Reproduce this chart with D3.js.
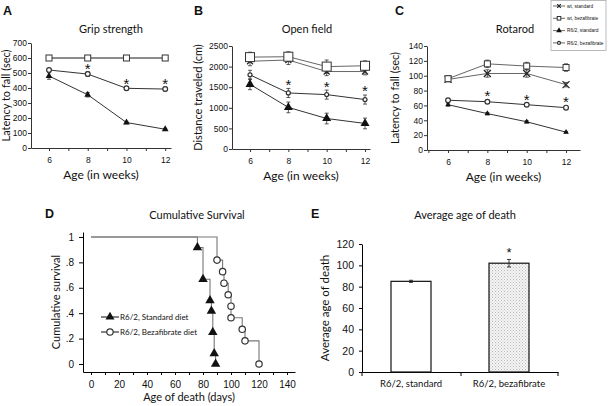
<!DOCTYPE html>
<html>
<head>
<meta charset="utf-8">
<script src="https://cdn.jsdelivr.net/npm/d3@7"></script>
<style>
  body { margin: 0; background: #fff; }
  svg text { font-family: "Liberation Sans", Arial, sans-serif; fill: #111; }
  .ttl { font-family: Lato, "Open Sans", sans-serif; }
</style>
</head>
<body>
<svg width="608" height="406"></svg>
<script>
var svg = d3.select("svg");

/* weeks on the x axis of A, B, C */
var weeks = [6, 8, 10, 12];
var seriesNames = ["wt, standard", "wt, bezafibrate", "R6/2, standard", "R6/2, bezafibrate"];

/* grip strength (sec) */
var gripWtStd = [600, 600, 600, 600];
var gripWtBez = [600, 600, 600, 600];
var gripR6Std = [480, 355, 170, 125];
var gripR6Bez = [520, 493, 398, 393];
var gripErr = [[6, 6, 6, 6], [6, 6, 6, 6], [22, 15, 8, 6], [10, 15, 12, 12]];
var gripStars = [null, 545, 450, 445];

/* open field (cm) */
var openWtStd = [2130, 2160, 1880, 1880];
var openWtBez = [2230, 2240, 2000, 2020];
var openR6Std = [1570, 1010, 740, 620];
var openR6Bez = [1800, 1360, 1320, 1200];
var openErr = [[110, 110, 100, 80], [120, 120, 160, 120], [130, 130, 130, 130], [110, 110, 110, 110]];
var openStars = [null, 1620, 1570, 1480];

/* rotarod (sec) */
var rotaWtStd = [95, 103, 103, 88];
var rotaWtBez = [96, 116, 113, 111];
var rotaR6Std = [61, 49, 38, 24];
var rotaR6Bez = [67, 65, 61, 57];
var rotaErr = [[3, 5, 5, 3], [4, 5, 5, 5], [2, 1.5, 1.5, 1], [2, 2, 2, 2]];
var rotaStars = [null, 77, 71, 69];

/* survival steps: day, survival fraction */
var survStdDays = [76, 80, 85, 86, 87, 88, 89];
var survStdVals = [0.917, 0.667, 0.5, 0.417, 0.25, 0.083, 0];
var survBezDays = [90, 94, 95, 98, 100, 100, 108, 110, 120];
var survBezVals = [0.818, 0.727, 0.636, 0.545, 0.455, 0.364, 0.273, 0.182, 0];

/* average age of death */
var ageGroups = ["R6/2, standard", "R6/2, bezafibrate"];
var ageMeans = [85, 102];
var ageErr = [1, 3.5];

// pattern for the dotted bar
var defs = svg.append("defs");
var pat = defs.append("pattern").attr("id", "dots").attr("width", 3).attr("height", 3)
    .attr("patternUnits", "userSpaceOnUse");
pat.append("rect").attr("width", 3).attr("height", 3).attr("fill", "#f4f4f4");
pat.append("rect").attr("width", 1).attr("height", 1).attr("fill", "#b8b8b8");
pat.append("rect").attr("x", 1.5).attr("y", 1.5).attr("width", 1).attr("height", 1).attr("fill", "#c8c8c8");

function marker(g, type, x, y, s) {
  if (type == 0) { // x / star
    g.append("path").attr("d", "M" + (x - s) + "," + (y - s) + "L" + (x + s) + "," + (y + s) +
        "M" + (x - s) + "," + (y + s) + "L" + (x + s) + "," + (y - s))
      .attr("stroke", "#222").attr("stroke-width", 1.2);
  } else if (type == 1) {
    g.append("rect").attr("x", x - s).attr("y", y - s).attr("width", 2 * s).attr("height", 2 * s)
      .attr("fill", "#fff").attr("stroke", "#333").attr("stroke-width", 1);
  } else if (type == 2) {
    g.append("path").attr("d", d3.symbol(d3.symbolTriangle, s * s * 2.2)())
      .attr("transform", "translate(" + x + "," + y + ")").attr("fill", "#111");
  } else {
    g.append("circle").attr("cx", x).attr("cy", y).attr("r", s * 0.8)
      .attr("fill", "#fff").attr("stroke", "#333").attr("stroke-width", 1.2);
  }
}

function linePanel(o) {
  var g = svg.append("g");
  var x = d3.scaleLinear().domain(o.xdom).range(o.xr);
  var y = d3.scaleLinear().domain([0, o.ymax]).range(o.yr);

  g.append("g").attr("transform", "translate(" + o.xr[0] + ",0)")
    .call(d3.axisLeft(y).ticks(o.ymax / o.ystep).tickSize(3).tickPadding(1).tickSizeOuter(0).tickFormat(d3.format("d")))
    .call(function(a) {
      a.select(".domain").attr("stroke", "#333");
      a.selectAll("line").attr("stroke", "#333");
      a.selectAll("text").attr("font-size", 8.5);
    });
  var xt = d3.range(Math.ceil(o.xdom[0]), Math.floor(o.xdom[1]) + 1);
  g.append("g").attr("transform", "translate(0," + o.yr[0] + ")")
    .call(d3.axisBottom(x).tickValues(xt).tickSize(3).tickSizeOuter(0)
      .tickFormat(function(d) { return weeks.indexOf(d) >= 0 ? d : ""; }))
    .call(function(a) {
      a.select(".domain").attr("stroke", "#333");
      a.selectAll("line").attr("stroke", "#333");
      a.selectAll("text").attr("font-size", 8.5).attr("dy", "1.1em");
    });

  var line = d3.line().x(function(d, i) { return x(weeks[i]); }).y(function(d) { return y(d); });
  o.series.forEach(function(s, k) {
    g.append("path").attr("d", line(s)).attr("fill", "none")
      .attr("stroke", k < 2 ? "#666" : "#333").attr("stroke-width", 1);
  });
  o.series.forEach(function(s, k) {
    s.forEach(function(v, i) {
      var e = o.err[k][i], cx = x(weeks[i]);
      g.append("path").attr("d", "M" + cx + "," + y(v - e) + "V" + y(v + e) +
          "M" + (cx - 2) + "," + y(v - e) + "h4M" + (cx - 2) + "," + y(v + e) + "h4")
        .attr("stroke", "#333").attr("stroke-width", 0.8).attr("fill", "none");
    });
  });
  o.series.forEach(function(s, k) {
    s.forEach(function(v, i) { marker(g, k, x(weeks[i]), y(v), o.ms[k]); });
  });
  o.stars.forEach(function(v, i) {
    if (v == null) return;
    g.append("text").attr("x", x(weeks[i])).attr("y", y(v) + 8).attr("text-anchor", "middle")
      .attr("font-size", 15).text("*");
  });

  var cx = (o.xr[0] + o.xr[1]) / 2;
  g.append("text").attr("class", "ttl").attr("x", o.tx).attr("y", 33).attr("text-anchor", "middle")
    .attr("font-size", 11).text(o.title);
  g.append("text").attr("class", "ttl").attr("x", cx).attr("y", o.yr[0] + 31).attr("text-anchor", "middle")
    .attr("font-size", 12).text("Age (in weeks)");
  g.append("text").attr("class", "ttl").attr("transform", "translate(" + o.ylx + "," + ((o.yr[0] + o.yr[1]) / 2) + ")rotate(-90)")
    .attr("text-anchor", "middle").attr("font-size", 11).text(o.ylab);
  g.append("text").attr("x", o.lx).attr("y", 15).attr("font-size", 12.5).attr("font-weight", "bold").text(o.letter);
}

linePanel({letter: "A", lx: 3, title: "Grip strength", tx: 111, ylab: "Latency to fall (sec)", ylx: 10,
  xdom: [5.07, 12.3], xr: [31, 171], ymax: 700, ystep: 100, yr: [148, 43],
  series: [gripWtStd, gripWtBez, gripR6Std, gripR6Bez], err: gripErr, stars: gripStars, ms: [2.5, 3, 3, 3]});
linePanel({letter: "B", lx: 194, title: "Open field", tx: 307, ylab: "Distance traveled (cm)", ylx: 202,
  xdom: [5.06, 12.26], xr: [232, 370], ymax: 2500, ystep: 500, yr: [149, 46],
  series: [openWtStd, openWtBez, openR6Std, openR6Bez], err: openErr, stars: openStars, ms: [3, 4.5, 4, 2.5]});
linePanel({letter: "C", lx: 395, title: "Rotarod", tx: 515, ylab: "Latency to fall (sec)", ylx: 399,
  xdom: [4.93, 12.71], xr: [427, 580], ymax: 140, ystep: 20, yr: [150, 46],
  series: [rotaWtStd, rotaWtBez, rotaR6Std, rotaR6Bez], err: rotaErr, stars: rotaStars, ms: [3.5, 3, 2.5, 3]});

// legend for A-C
var lg = svg.append("g");
lg.append("rect").attr("x", 551).attr("y", 0.5).attr("width", 55).attr("height", 50)
  .attr("fill", "#fff").attr("stroke", "#aaa").attr("stroke-width", 0.8);
seriesNames.forEach(function(n, k) {
  var ly = 6 + k * 12.3;
  lg.append("line").attr("x1", 553).attr("x2", 565).attr("y1", ly).attr("y2", ly).attr("stroke", "#444").attr("stroke-width", 0.8);
  marker(lg, k, 559, ly, k == 2 ? 2.5 : 1.8);
  lg.append("text").attr("x", 567).attr("y", ly + 1.8).attr("font-size", 4.8).attr("fill", "#444").text(n);
});

// D: survival
var gd = svg.append("g");
var xd = d3.scaleLinear().domain([-5.7, 145.7]).range([83, 295]);
var yd = d3.scaleLinear().domain([-0.063, 1.039]).range([372, 232]);
gd.append("g").attr("transform", "translate(83,0)")
  .call(d3.axisLeft(yd).tickValues([0, 0.2, 0.4, 0.6, 0.8, 1]).tickSize(4).tickSizeOuter(0)
    .tickFormat(function(d) { return d == 0 || d == 1 ? d : d3.format(".1f")(d).replace("0.", "."); }))
  .call(function(a) { a.selectAll("text").attr("font-size", 10).attr("dx", -2); });
gd.append("g").attr("transform", "translate(0,372)")
  .call(d3.axisBottom(xd).tickValues(d3.range(0, 141, 10)).tickSize(3).tickSizeOuter(0)
    .tickFormat(function(d) { return d % 20 == 0 ? d : ""; }))
  .call(function(a) { a.selectAll("text").attr("font-size", 10).attr("dy", "1em"); });

function stepPath(days, vals) {
  var pts = [[0, 1]], cur = 1;
  days.forEach(function(d, i) { pts.push([d, cur]); pts.push([d, vals[i]]); cur = vals[i]; });
  return d3.line().x(function(p) { return xd(p[0]); }).y(function(p) { return yd(p[1]); })(pts);
}
gd.append("path").attr("d", stepPath(survBezDays, survBezVals)).attr("fill", "none").attr("stroke", "#777").attr("stroke-width", 1.1);
gd.append("path").attr("d", stepPath(survStdDays, survStdVals)).attr("fill", "none").attr("stroke", "#777").attr("stroke-width", 1.1);
survStdDays.forEach(function(d, i) { marker(gd, 2, xd(d), yd(survStdVals[i]), 4.2); });
survBezDays.forEach(function(d, i) { marker(gd, 3, xd(d), yd(survBezVals[i]), 4); });

[["R6/2, Standard diet", 2, 317], ["R6/2, Bezafibrate diet", 3, 332]].forEach(function(l) {
  gd.append("line").attr("x1", 101).attr("x2", 119).attr("y1", l[2]).attr("y2", l[2]).attr("stroke", "#222").attr("stroke-width", 1.1);
  marker(gd, l[1], 110, l[2], 4);
  gd.append("text").attr("x", 120).attr("y", l[2] + 3).attr("font-size", 8).attr("class", "ttl").text(l[0]);
});
gd.append("text").attr("class", "ttl").attr("x", 197).attr("y", 219).attr("text-anchor", "middle").attr("font-size", 11).text("Cumulative Survival");
gd.append("text").attr("class", "ttl").attr("x", 189).attr("y", 401).attr("text-anchor", "middle").attr("font-size", 11).text("Age of death (days)");
gd.append("text").attr("class", "ttl").attr("transform", "translate(60,302)rotate(-90)").attr("text-anchor", "middle")
  .attr("font-size", 11).text("Cumulative survival");
gd.append("text").attr("x", 45).attr("y", 218).attr("font-size", 12.5).attr("font-weight", "bold").text("D");

// E: average age of death
var ge = svg.append("g");
var xe = d3.scaleBand().domain(ageGroups).range([362, 558]);
var ye = d3.scaleLinear().domain([0, 120]).range([372, 244]);
ge.append("g").attr("transform", "translate(362,0)")
  .call(d3.axisLeft(ye).ticks(6).tickSize(3).tickSizeOuter(0))
  .call(function(a) { a.selectAll("text").attr("font-size", 10.5).attr("dx", -2); });
ge.append("g").attr("transform", "translate(0,372)")
  .call(d3.axisBottom(xe).tickSize(0).tickSizeOuter(0))
  .call(function(a) { a.selectAll("text").attr("font-size", 9.5).attr("class", "ttl").attr("dy", "1.3em"); });
[362, 461, 558].forEach(function(t) {
  ge.append("line").attr("x1", t).attr("x2", t).attr("y1", 372).attr("y2", 376).attr("stroke", "#000");
});
ageMeans.forEach(function(v, i) {
  var bx = xe(ageGroups[i]) + xe.bandwidth() / 2;
  ge.append("rect").attr("x", bx - 20).attr("y", ye(v)).attr("width", 40).attr("height", ye(0) - ye(v))
    .attr("fill", i == 0 ? "#fff" : "url(#dots)").attr("stroke", "#111").attr("stroke-width", 1.2);
  var e = ageErr[i];
  ge.append("path").attr("d", "M" + bx + "," + ye(v - e) + "V" + ye(v + e) + "M" + (bx - 2) + "," + ye(v - e) + "h4M" + (bx - 2) + "," + ye(v + e) + "h4")
    .attr("stroke", "#111").attr("stroke-width", 0.8);
  if (i == 1) ge.append("text").attr("x", bx).attr("y", ye(v + e) - 2).attr("text-anchor", "middle").attr("font-size", 13).text("*");
});
ge.append("text").attr("class", "ttl").attr("x", 465).attr("y", 219).attr("text-anchor", "middle").attr("font-size", 11).text("Average age of death");
ge.append("text").attr("class", "ttl").attr("transform", "translate(329,308)rotate(-90)").attr("text-anchor", "middle")
  .attr("font-size", 11.5).text("Average age of death");
ge.append("text").attr("x", 311).attr("y", 218).attr("font-size", 12.5).attr("font-weight", "bold").text("E");
</script>
</body>
</html>
